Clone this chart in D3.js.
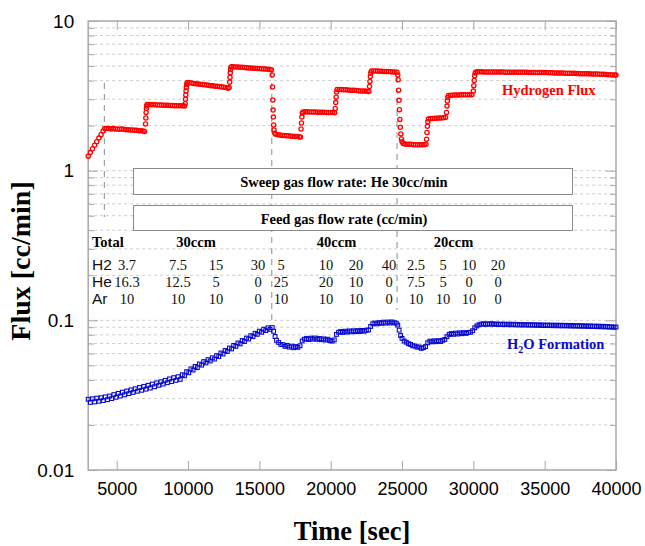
<!DOCTYPE html>
<html>
<head>
<meta charset="utf-8">
<script src="https://cdn.jsdelivr.net/npm/d3@7"></script>
<style>
  html, body { margin: 0; padding: 0; background: #fff; }
  svg { display: block; }
</style>
</head>
<body>
<svg id="chart" width="645" height="546"></svg>
<script>
// ---- Data -----------------------------------------------------------------
// Hydrogen permeation flux, cc/min, as [time (s), flux]
const hydrogenFlux = [
  [3000,1.25],[3150,1.32],[3300,1.40],[3450,1.48],[3600,1.56],[3750,1.65],[3900,1.74],[4050,1.84],[4150,1.91],
  [4300,1.91],[4450,1.91],[4600,1.90],[4750,1.91],[4900,1.90],[5050,1.90],[5200,1.89],[5350,1.90],[5500,1.89],
  [5650,1.88],[5800,1.88],[5950,1.87],[6100,1.87],[6250,1.86],[6400,1.86],[6550,1.85],[6700,1.85],[6850,1.84],[6950,1.83],
  [7020,2.05],[7040,2.25],[7060,2.45],[7080,2.60],[7100,2.70],[7130,2.77],
  [7250,2.77],[7400,2.76],[7550,2.76],[7700,2.76],[7850,2.75],[8000,2.75],[8150,2.75],[8300,2.74],[8450,2.74],
  [8600,2.74],[8750,2.73],[8900,2.73],[9050,2.72],[9200,2.72],[9350,2.72],[9500,2.71],[9650,2.71],[9750,2.70],
  [9800,2.80],[9820,3.00],[9840,3.20],[9860,3.40],[9880,3.60],[9900,3.75],[9930,3.85],[9970,3.88],
  [10100,3.87],[10250,3.85],[10400,3.83],[10550,3.81],[10700,3.80],[10850,3.78],[11000,3.77],[11150,3.75],
  [11300,3.73],[11450,3.72],[11600,3.70],[11750,3.69],[11900,3.67],[12050,3.66],[12200,3.64],[12350,3.63],
  [12500,3.61],[12650,3.60],[12800,3.55],[12880,3.60],
  [12920,3.90],[12940,4.20],[12960,4.50],[12980,4.75],[13010,4.90],[13050,4.95],
  [13200,4.94],[13350,4.93],[13500,4.92],[13650,4.91],[13800,4.90],[13950,4.89],[14100,4.88],[14250,4.86],
  [14400,4.85],[14550,4.84],[14700,4.83],[14850,4.82],[15000,4.81],[15150,4.80],[15300,4.78],[15450,4.77],
  [15600,4.76],[15750,4.75],[15850,4.72],
  [15900,4.36],[15920,3.62],[15940,2.97],[15960,2.54],[15980,2.28],[16000,2.02],[16030,1.87],[16080,1.78],[16150,1.75],
  [16300,1.74],[16450,1.73],[16600,1.72],[16750,1.72],[16900,1.71],[17050,1.71],[17200,1.70],[17350,1.70],
  [17500,1.69],[17650,1.69],[17800,1.68],[17880,1.68],
  [17920,1.90],[17950,2.08],[17980,2.28],[18010,2.42],[18050,2.47],
  [18200,2.48],[18350,2.48],[18500,2.47],[18650,2.47],[18800,2.47],[18950,2.47],[19100,2.46],[19250,2.46],
  [19400,2.46],[19550,2.46],[19700,2.45],[19850,2.45],[20000,2.45],[20150,2.45],[20280,2.44],
  [20320,2.60],[20350,2.85],[20380,3.10],[20410,3.35],[20450,3.49],
  [20600,3.49],[20750,3.48],[20900,3.47],[21050,3.47],[21200,3.46],[21350,3.45],[21500,3.44],[21650,3.44],
  [21800,3.43],[21950,3.42],[22100,3.41],[22250,3.41],[22400,3.40],[22550,3.39],[22680,3.38],
  [22720,3.65],[22750,3.95],[22780,4.25],[22810,4.50],[22850,4.64],
  [23000,4.64],[23150,4.63],[23300,4.63],[23450,4.62],[23600,4.61],[23750,4.60],[23900,4.60],[24050,4.59],
  [24200,4.58],[24350,4.57],[24500,4.56],[24650,4.55],
  [24700,4.36],[24730,4.05],[24760,3.45],[24790,2.95],[24820,2.55],[24850,2.20],[24880,1.95],[24920,1.76],
  [24960,1.63],[25000,1.56],[25080,1.52],[25200,1.51],
  [25350,1.50],[25500,1.50],[25650,1.50],[25800,1.49],[25950,1.49],[26100,1.49],[26250,1.49],[26400,1.49],
  [26550,1.49],[26680,1.50],
  [26720,1.62],[26750,1.80],[26780,1.98],[26810,2.12],[26850,2.21],
  [27000,2.23],[27150,2.23],[27300,2.24],[27450,2.24],[27600,2.25],[27750,2.25],[27900,2.26],[28050,2.27],
  [28120,2.45],[28150,2.70],[28180,2.92],[28210,3.08],[28250,3.18],
  [28400,3.19],[28550,3.19],[28700,3.20],[28850,3.20],[29000,3.20],[29150,3.21],[29300,3.21],[29450,3.21],
  [29600,3.22],[29750,3.22],[29900,3.22],
  [30000,3.40],[30030,3.70],[30060,4.00],[30090,4.30],[30130,4.50],[30180,4.57],
  [30300,4.58],[30450,4.58],[30600,4.58],[30750,4.57],[30900,4.57],[31050,4.57],[31200,4.57],[31350,4.57],
  [31500,4.56],[31650,4.56],[31800,4.56],[31950,4.56],[32100,4.56],[32250,4.55],[32400,4.55],[32550,4.55],
  [32700,4.55],[32850,4.55],[33000,4.55],[33150,4.54],[33300,4.54],[33450,4.54],[33600,4.54],[33750,4.54],
  [33900,4.53],[34050,4.53],[34200,4.53],[34350,4.53],[34500,4.52],[34650,4.52],[34800,4.52],[34950,4.52],
  [35100,4.52],[35250,4.51],[35400,4.51],[35550,4.51],[35700,4.50],[35850,4.50],[36000,4.50],[36150,4.49],
  [36300,4.49],[36450,4.48],[36600,4.48],[36750,4.48],[36900,4.47],[37050,4.47],[37200,4.46],[37350,4.46],
  [37500,4.45],[37650,4.45],[37800,4.45],[37950,4.44],[38100,4.44],[38250,4.43],[38400,4.43],[38550,4.42],
  [38700,4.42],[38850,4.41],[39000,4.41],[39150,4.40],[39300,4.39],[39450,4.38],[39600,4.37],[39750,4.36],
  [39900,4.35],[40000,4.35]
];

// Water formation rate, cc/min, as [time (s), rate]
const waterFormation = [
  [3000,0.0297],[3150,0.0283],[3300,0.0299],[3450,0.0285],[3600,0.0302],[3750,0.0288],[3900,0.0304],[4050,0.0291],
  [4200,0.0308],[4350,0.0295],[4500,0.0312],[4650,0.0300],[4800,0.0319],[4950,0.0306],[5100,0.0325],[5250,0.0312],
  [5400,0.0331],[5550,0.0318],[5700,0.0337],[5850,0.0324],[6000,0.0343],[6150,0.0330],[6300,0.0349],[6450,0.0336],
  [6600,0.0356],[6750,0.0341],[6900,0.0362],[7050,0.0347],[7200,0.0368],[7350,0.0353],[7500,0.0375],[7650,0.0360],
  [7800,0.0382],[7950,0.0368],[8100,0.0389],[8250,0.0375],[8400,0.0397],[8550,0.0383],[8700,0.0406],[8850,0.0390],
  [9000,0.0414],[9150,0.0397],[9300,0.0420],[9450,0.0403],[9600,0.0433],[9750,0.0426],[9900,0.0454],[10050,0.0446],
  [10200,0.0474],[10350,0.0465],[10500,0.0492],[10650,0.0483],[10800,0.0511],[10950,0.0502],[11100,0.0530],[11250,0.0519],
  [11400,0.0546],[11550,0.0535],[11700,0.0562],[11850,0.0551],[12000,0.0581],[12150,0.0572],[12300,0.0605],[12450,0.0595],
  [12600,0.0629],[12750,0.0619],[12900,0.0653],[13050,0.0644],[13200,0.0680],[13350,0.0670],[13500,0.0706],[13650,0.0696],
  [13800,0.0733],[13950,0.0722],[14100,0.0761],[14250,0.0750],[14400,0.0790],[14550,0.0778],[14700,0.0819],[14850,0.0806],
  [15000,0.0846],[15150,0.0832],[15300,0.0872],[15450,0.0854],[15600,0.0891],[15750,0.0870],[15900,0.0895],
  [16000,0.0845],[16100,0.0780],[16200,0.0735],[16350,0.0712],[16500,0.0690],[16650,0.0688],[16800,0.0670],[16950,0.0680],
  [17100,0.0662],[17250,0.0672],[17400,0.0656],[17550,0.0668],[17700,0.0660],[17850,0.0676],
  [18000,0.0728],[18150,0.0748],[18300,0.0756],[18450,0.0744],[18600,0.0760],[18750,0.0748],[18900,0.0762],[19050,0.0746],
  [19200,0.0756],[19350,0.0742],[19500,0.0752],[19650,0.0738],[19800,0.0748],[19950,0.0732],[20100,0.0726],[20250,0.0740],
  [20400,0.0805],[20550,0.0832],[20700,0.0842],[20850,0.0830],[21000,0.0846],[21150,0.0834],[21300,0.0850],[21450,0.0838],
  [21600,0.0852],[21750,0.0840],[21900,0.0854],[22050,0.0842],[22200,0.0856],[22350,0.0846],[22500,0.0858],[22650,0.0862],
  [22800,0.0910],[22950,0.0948],[23100,0.0960],[23250,0.0948],[23400,0.0966],[23550,0.0954],[23700,0.0972],[23850,0.0958],
  [24000,0.0974],[24150,0.0960],[24300,0.0976],[24450,0.0962],[24600,0.0958],
  [24700,0.0930],[24800,0.0860],[24900,0.0792],[25000,0.0758],[25150,0.0728],[25300,0.0714],[25450,0.0698],[25600,0.0690],
  [25750,0.0676],[25900,0.0674],[26050,0.0662],[26200,0.0664],[26350,0.0650],[26500,0.0656],[26650,0.0668],
  [26800,0.0708],[26950,0.0726],[27100,0.0718],[27250,0.0730],[27400,0.0720],[27550,0.0732],[27700,0.0722],[27850,0.0736],
  [28000,0.0745],
  [28150,0.0778],[28300,0.0805],[28450,0.0816],[28600,0.0806],[28750,0.0822],[28900,0.0810],[29050,0.0826],[29200,0.0814],
  [29350,0.0828],[29500,0.0818],[29650,0.0830],[29800,0.0832],
  [29950,0.0852],[30100,0.0892],[30250,0.0918],[30400,0.0935],[30550,0.0942],[30700,0.0950],
  [30850,0.0940],[31000,0.0948],[31150,0.0942],[31300,0.0950],[31450,0.0940],[31600,0.0946],[31750,0.0938],[31900,0.0945],
  [32050,0.0936],[32200,0.0944],[32350,0.0935],[32500,0.0943],[32650,0.0934],[32800,0.0942],[32950,0.0932],[33100,0.0940],
  [33250,0.0930],[33400,0.0938],[33550,0.0929],[33700,0.0937],[33850,0.0928],[34000,0.0936],[34150,0.0927],[34300,0.0935],
  [34450,0.0925],[34600,0.0934],[34750,0.0924],[34900,0.0932],[35050,0.0923],[35200,0.0931],[35350,0.0922],[35500,0.0930],
  [35650,0.0920],[35800,0.0929],[35950,0.0919],[36100,0.0928],[36250,0.0918],[36400,0.0926],[36550,0.0917],[36700,0.0925],
  [36850,0.0915],[37000,0.0924],[37150,0.0914],[37300,0.0922],[37450,0.0913],[37600,0.0921],[37750,0.0912],[37900,0.0920],
  [38050,0.0910],[38200,0.0918],[38350,0.0909],[38500,0.0916],[38650,0.0907],[38800,0.0915],[38950,0.0905],[39100,0.0912],
  [39250,0.0903],[39400,0.0910],[39550,0.0900],[39700,0.0906],[39850,0.0898],[40000,0.0902]
];

// Times at which the feed composition was switched (s)
const switchTimes = [4130, 15870, 24650];

// Axis ticks
const timeTicks = [5000, 10000, 15000, 20000, 25000, 30000, 35000, 40000];
const fluxMajorTicks = [0.01, 0.1, 1, 10];
const fluxTickLabels = ["0.01", "0.1", "1", "10"];

// Feed-gas table (cc/min)
const feedTotals = ["30ccm", "40ccm", "20ccm"];
const gasNames = ["H2", "He", "Ar"];
const h2Feed = ["3.7", "7.5", "15", "30", "5", "10", "20", "40", "2.5", "5", "10", "20"];
const heFeed = ["16.3", "12.5", "5", "0", "25", "20", "10", "0", "7.5", "5", "0", "0"];
const arFeed = ["10", "10", "10", "0", "10", "10", "10", "0", "10", "10", "10", "0"];

const sweepText = "Sweep gas flow rate: He 30cc/min";
const feedText = "Feed gas flow rate (cc/min)";

// ---- Layout ---------------------------------------------------------------
const SERIF = "'Liberation Serif', 'Times New Roman', serif";
const SANS = "'Liberation Sans', Arial, sans-serif";
const RED = "#ff0000";
const BLUE = "#0a0acd";
const FRAME = "#a8a8a8";

const plot = { left: 88.2, right: 616, top: 21, bottom: 470 };

const svg = d3.select("#chart");
svg.append("rect").attr("width", 645).attr("height", 546).attr("fill", "#fff");

const x = d3.scaleLinear().domain([3000, 40000]).range([plot.left, plot.right]);
const y = d3.scaleLog().domain([0.01, 10]).range([plot.bottom, plot.top]);

const allLogTicks = y.ticks();
const minorTicks = allLogTicks.filter(v => !fluxMajorTicks.some(m => Math.abs(m - v) / m < 1e-6));

// horizontal dashed grid
svg.append("g")
  .selectAll("line")
  .data(allLogTicks.filter(v => v > 0.0101 && v < 9.99))
  .join("line")
  .attr("x1", plot.left).attr("x2", plot.right)
  .attr("y1", d => y(d)).attr("y2", d => y(d))
  .attr("stroke", "#cccccc").attr("stroke-width", 1)
  .attr("stroke-dasharray", "3,3");

// vertical markers where the feed was switched
const markerSpans = [[83, 217], [72, 322], [77, 310]];
svg.append("g")
  .selectAll("line")
  .data(switchTimes)
  .join("line")
  .attr("x1", d => x(d)).attr("x2", d => x(d))
  .attr("y1", (d, i) => markerSpans[i][0]).attr("y2", (d, i) => markerSpans[i][1])
  .attr("stroke", "#8c8c8c").attr("stroke-width", 1)
  .attr("stroke-dasharray", "6,5");

// axes with inward ticks
function styleAxis(g) {
  g.select(".domain").remove();
  g.selectAll(".tick line").attr("stroke", FRAME).attr("stroke-width", 1);
  g.selectAll("text").attr("fill", "#000");
}

svg.append("g").attr("transform", `translate(${plot.left},0)`)
  .call(d3.axisLeft(y).tickValues(minorTicks).tickSize(-6).tickFormat(""))
  .call(styleAxis);
svg.append("g").attr("transform", `translate(${plot.left},0)`)
  .call(d3.axisLeft(y).tickValues(fluxMajorTicks).tickSize(-10).tickPadding(14)
    .tickFormat((d, i) => fluxTickLabels[i]))
  .call(styleAxis)
  .call(g => g.selectAll("text").attr("font-family", SANS).attr("font-size", 19));

svg.append("g").attr("transform", `translate(${plot.right},0)`)
  .call(d3.axisRight(y).tickValues(minorTicks).tickSize(-6).tickFormat(""))
  .call(styleAxis);
svg.append("g").attr("transform", `translate(${plot.right},0)`)
  .call(d3.axisRight(y).tickValues(fluxMajorTicks).tickSize(-10).tickFormat(""))
  .call(styleAxis);

svg.append("g").attr("transform", `translate(0,${plot.bottom})`)
  .call(d3.axisBottom(x).tickValues(timeTicks).tickSize(-9).tickPadding(12).tickFormat(d3.format("d")))
  .call(styleAxis)
  .call(g => g.selectAll("text").attr("font-family", SANS).attr("font-size", 18));
svg.append("g").attr("transform", `translate(0,${plot.top})`)
  .call(d3.axisTop(x).tickValues(timeTicks).tickSize(-9).tickFormat(""))
  .call(styleAxis);

// frame
svg.append("rect")
  .attr("x", plot.left).attr("y", plot.top)
  .attr("width", plot.right - plot.left).attr("height", plot.bottom - plot.top)
  .attr("fill", "none").attr("stroke", FRAME).attr("stroke-width", 1.5);

// ---- Feed / sweep table -------------------------------------------------------
const boxes = [
  { y0: 168.5, y1: 194.5, text: sweepText, base: 186.5 },
  { y0: 205.5, y1: 230.5, text: feedText, base: 223.5 }
];
boxes.forEach(b => {
  svg.append("rect")
    .attr("x", 133.5).attr("y", b.y0).attr("width", 439).attr("height", b.y1 - b.y0)
    .attr("fill", "#fff").attr("stroke", "#8a8a8a").attr("stroke-width", 1);
  svg.append("text")
    .attr("x", 344).attr("y", b.base).attr("text-anchor", "middle")
    .attr("font-family", SERIF).attr("font-weight", "bold").attr("font-size", 14.5)
    .text(b.text);
});

svg.append("text").attr("x", 92).attr("y", 247)
  .attr("font-family", SERIF).attr("font-weight", "bold").attr("font-size", 14.5)
  .text("Total");
const totalX = [196, 336.5, 453.5];
svg.append("g").selectAll("text").data(feedTotals).join("text")
  .attr("x", (d, i) => totalX[i]).attr("y", 247).attr("text-anchor", "middle")
  .attr("font-family", SERIF).attr("font-weight", "bold").attr("font-size", 14.5)
  .text(d => d);

const rowBase = [270, 287, 304];
const colX = [127, 178, 216, 258, 281, 326, 356, 389, 416, 443, 469, 498];
[h2Feed, heFeed, arFeed].forEach((row, r) => {
  svg.append("text").attr("x", 92).attr("y", rowBase[r])
    .attr("font-family", SANS).attr("font-size", 15.5).attr("fill", "#111")
    .text(gasNames[r]);
  svg.append("g").selectAll("text").data(row).join("text")
    .attr("x", (d, i) => colX[i]).attr("y", rowBase[r]).attr("text-anchor", "middle")
    .attr("font-family", SERIF).attr("font-size", 14.5).attr("fill", "#111")
    .text(d => d);
});

// ---- Series ------------------------------------------------------------------
svg.append("g")
  .selectAll("circle")
  .data(hydrogenFlux)
  .join("circle")
  .attr("cx", d => x(d[0])).attr("cy", d => y(d[1])).attr("r", 2.1)
  .attr("fill", "none").attr("stroke", RED).attr("stroke-width", 1.3);

const sq = 3.8;
svg.append("g")
  .selectAll("rect")
  .data(waterFormation)
  .join("rect")
  .attr("x", d => x(d[0]) - sq / 2).attr("y", d => y(d[1]) - sq / 2)
  .attr("width", sq).attr("height", sq)
  .attr("fill", "none").attr("stroke", BLUE).attr("stroke-width", 1.1);

// series labels
svg.append("text").attr("x", 502).attr("y", 95)
  .attr("font-family", SERIF).attr("font-weight", "bold").attr("font-size", 14.5)
  .attr("fill", RED).text("Hydrogen Flux");

const h2oLabel = svg.append("text").attr("x", 507).attr("y", 349)
  .attr("font-family", SERIF).attr("font-weight", "bold").attr("font-size", 14.5)
  .attr("fill", BLUE);
h2oLabel.append("tspan").text("H");
h2oLabel.append("tspan").attr("font-size", 10).attr("dy", 4).text("2");
h2oLabel.append("tspan").attr("dy", -4).text("O Formation");

// ---- Axis titles -------------------------------------------------------------
svg.append("text")
  .attr("transform", "translate(30,261) rotate(-90)")
  .attr("text-anchor", "middle")
  .attr("font-family", SERIF).attr("font-weight", "bold").attr("font-size", 28)
  .text("Flux [cc/min]");

svg.append("text")
  .attr("x", 352).attr("y", 540).attr("text-anchor", "middle")
  .attr("font-family", SERIF).attr("font-weight", "bold").attr("font-size", 26.5)
  .text("Time [sec]");
</script>
</body>
</html>
